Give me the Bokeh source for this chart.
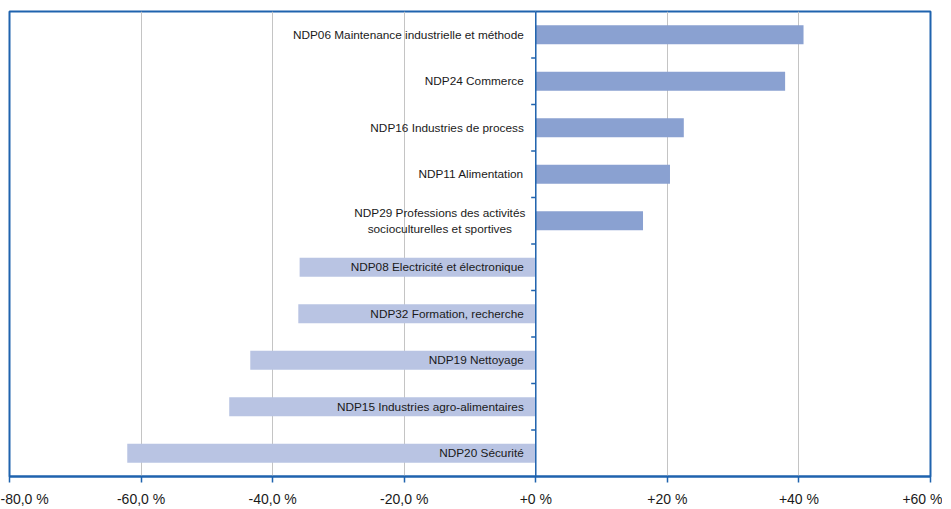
from bokeh.plotting import figure
from bokeh.models import ColumnDataSource, FixedTicker, CustomJSTickFormatter, Span, Range1d, FactorRange
from bokeh.core.properties import value
from bokeh.embed import file_html
from bokeh.resources import INLINE

categories = [
    "NDP06 Maintenance industrielle et méthode",
    "NDP24 Commerce",
    "NDP16 Industries de process",
    "NDP11 Alimentation",
    "NDP29 Professions des activités\nsocioculturelles et sportives",
    "NDP08 Electricité et électronique",
    "NDP32 Formation, recherche",
    "NDP19 Nettoyage",
    "NDP15 Industries agro-alimentaires",
    "NDP20 Sécurité",
]
values = [40.7, 37.9, 22.5, 20.4, 16.3, -35.9, -36.1, -43.4, -46.6, -62.1]
tick_values = [-80, -60, -40, -20, 0, 20, 40, 60]
tick_labels = ["-80,0 %", "-60,0 %", "-40,0 %", "-20,0 %", "+0 %", "+20 %", "+40 %", "+60 %"]

POS = "#8AA1D1"
NEG = "#B9C4E3"
BLUE = "#1F63AE"
FONT = "Liberation Sans"

keys = [f"c{i}" for i in range(len(categories))]
colors = [POS if v >= 0 else NEG for v in values]

p = figure(width=942, height=509, output_backend="svg", toolbar_location=None,
           x_range=Range1d(tick_values[0], tick_values[-1]),
           y_range=FactorRange(*reversed(keys)),
           min_border_left=9, min_border_right=12, min_border_top=11, min_border_bottom=20)

src = ColumnDataSource(dict(y=keys, v=values, c=colors))
p.hbar(y="y", left=0, right="v", height=0.41, fill_color="c", line_color=None, source=src)

single = [i for i, c in enumerate(categories) if "\n" not in c]
multi = [i for i, c in enumerate(categories) if "\n" in c]
p.text(x=[0] * len(single), y=[keys[i] for i in single], text=[categories[i] for i in single],
       x_offset=-12, text_align="right", text_baseline="middle",
       text_font=value(FONT), text_font_size="11.8px", text_color="#1a1a1a")
for i in multi:
    p.text(x=[0], y=[keys[i]], text=[categories[i]], x_offset=-96,
           text_align="center", text_baseline="middle", text_line_height=1.15,
           text_font=value(FONT), text_font_size="11.8px", text_color="#1a1a1a")

# vertical axis at zero with ticks at category boundaries
p.add_layout(Span(location=0, dimension="height", line_color=BLUE, line_width=1.5))
p.segment(x0=[-0.7] * (len(keys) - 1), x1=[0] * (len(keys) - 1),
          y0=[(k, -0.5) for k in keys[:-1]], y1=[(k, -0.5) for k in keys[:-1]],
          line_color=BLUE, line_width=1.5)

p.yaxis.visible = False
p.ygrid.visible = False
p.xgrid.ticker = FixedTicker(ticks=tick_values)
p.xgrid.grid_line_color = "#C4C4C4"
p.xgrid.grid_line_width = 1

xa = p.xaxis[0]
xa.ticker = FixedTicker(ticks=tick_values)
xa.formatter = CustomJSTickFormatter(args=dict(vals=tick_values, labs=tick_labels),
                                     code="const i = vals.indexOf(tick); return i >= 0 ? labs[i] : '';")
xa.axis_line_color = BLUE
xa.axis_line_width = 2
xa.major_tick_line_color = BLUE
xa.major_tick_line_width = 1.5
xa.major_tick_out = 6
xa.major_tick_in = 0
xa.minor_tick_line_color = None
xa.major_label_text_font = FONT
xa.major_label_text_font_size = "14px"
xa.major_label_text_color = "#1a1a1a"
xa.major_label_standoff = 8

p.outline_line_color = BLUE
p.outline_line_width = 2
p.background_fill_color = "white"

open("out.html", "w").write(file_html(p, INLINE))
